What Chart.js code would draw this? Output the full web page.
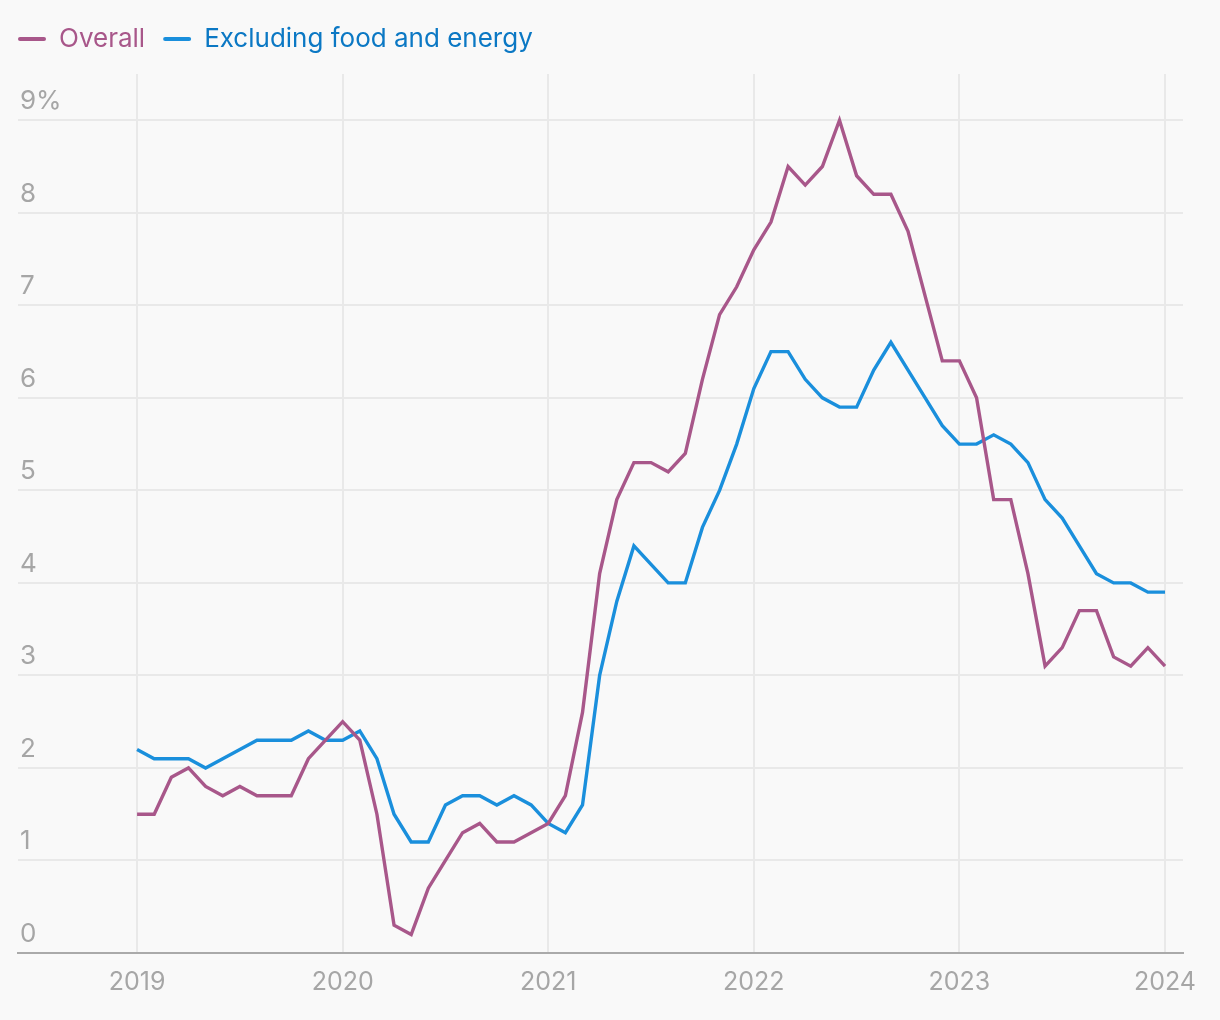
<!DOCTYPE html>
<html>
<head>
<meta charset="utf-8">
<script src="https://cdn.jsdelivr.net/npm/chart.js@4.4.1/dist/chart.umd.min.js"></script>
<style>
  html, body { margin: 0; padding: 0; background: #f9f9f9; }
  #wrap { width: 1220px; height: 1020px; position: relative; }
</style>
</head>
<body>
<div id="wrap"><canvas id="c"></canvas></div>
<script>
// Months: Jan 2019 (index 0) ... Jan 2024 (index 60)
const months = Array.from({length: 61}, (_, i) => i);
const overall = [
  1.5, 1.5, 1.9, 2.0, 1.8, 1.7, 1.8, 1.7, 1.7, 1.7, 2.1, 2.3,
  2.5, 2.3, 1.5, 0.3, 0.2, 0.7, 1.0, 1.3, 1.4, 1.2, 1.2, 1.3,
  1.4, 1.7, 2.6, 4.1, 4.9, 5.3, 5.3, 5.2, 5.4, 6.2, 6.9, 7.2,
  7.6, 7.9, 8.5, 8.3, 8.5, 9.0, 8.4, 8.2, 8.2, 7.8, 7.1, 6.4,
  6.4, 6.0, 4.9, 4.9, 4.1, 3.1, 3.3, 3.7, 3.7, 3.2, 3.1, 3.3,
  3.1
];
const core = [
  2.2, 2.1, 2.1, 2.1, 2.0, 2.1, 2.2, 2.3, 2.3, 2.3, 2.4, 2.3,
  2.3, 2.4, 2.1, 1.5, 1.2, 1.2, 1.6, 1.7, 1.7, 1.6, 1.7, 1.6,
  1.4, 1.3, 1.6, 3.0, 3.8, 4.4, 4.2, 4.0, 4.0, 4.6, 5.0, 5.5,
  6.1, 6.5, 6.5, 6.2, 6.0, 5.9, 5.9, 6.3, 6.6, 6.3, 6.0, 5.7,
  5.5, 5.5, 5.6, 5.5, 5.3, 4.9, 4.7, 4.4, 4.1, 4.0, 4.0, 3.9,
  3.9
];
const seriesNames = ['Overall', 'Excluding food and energy'];
const yearTicks = [0, 12, 24, 36, 48, 60];
const yearLabels = ['2019', '2020', '2021', '2022', '2023', '2024'];
const yTicks = [0, 1, 2, 3, 4, 5, 6, 7, 8, 9];

const lineColors = ['#a8578a', '#1a8fdc'];
const textColors = ['#a8578a', '#0b78c4'];

const legendMargin = {
  id: 'legendMargin',
  beforeInit(chart) {
    const origFit = chart.legend.fit;
    chart.legend.fit = function () {
      origFit.bind(this)();
      this.height += 12;
    };
  }
};

new Chart(document.getElementById('c'), {
  type: 'line',
  data: {
    labels: months,
    datasets: [
      { label: seriesNames[0], data: months.map((m, i) => ({x: m, y: overall[i]})),
        borderColor: lineColors[0], backgroundColor: lineColors[0], borderWidth: 3.4,
        pointRadius: 0, tension: 0, borderJoinStyle: 'miter' },
      { label: seriesNames[1], data: months.map((m, i) => ({x: m, y: core[i]})),
        borderColor: lineColors[1], backgroundColor: lineColors[1], borderWidth: 3.4,
        pointRadius: 0, tension: 0, borderJoinStyle: 'miter' }
    ]
  },
  options: {
    responsive: true,
    maintainAspectRatio: false,
    animation: false,
    layout: { padding: { left: 0, right: 37, top: 8, bottom: 9 } },
    plugins: {
      tooltip: { enabled: false },
      legend: {
        display: true,
        position: 'top',
        align: 'start',
        labels: {
          boxWidth: 28,
          boxHeight: 4,
          padding: 18,
          useBorderRadius: true,
          borderRadius: 2,
          font: { family: 'Inter', size: 26 },
          generateLabels(chart) {
            return chart.data.datasets.map((ds, i) => ({
              text: ds.label,
              fillStyle: lineColors[i],
              strokeStyle: lineColors[i],
              lineWidth: 0,
              fontColor: textColors[i],
              borderRadius: 2,
              datasetIndex: i,
              hidden: false
            }));
          }
        }
      }
    },
    scales: {
      x: {
        type: 'linear',
        min: -6.95,
        max: 61.05,
        afterBuildTicks(scale) { scale.ticks = yearTicks.map(v => ({value: v})); },
        ticks: {
          callback(v) { const k = yearTicks.indexOf(v); return k >= 0 ? yearLabels[k] : ''; },
          color: '#a6a6a6',
          font: { family: 'Inter', size: 25 },
          padding: 14,
          maxRotation: 0,
          autoSkip: false
        },
        grid: { color: '#e9e9e9', lineWidth: 2, drawTicks: false },
        border: { display: true, color: '#aaaaaa', width: 2 }
      },
      y: {
        type: 'linear',
        min: 0,
        max: 9.5,
        afterBuildTicks(scale) { scale.ticks = yTicks.map(v => ({value: v})); },
        afterFit(scale) { scale.width = 18; },
        ticks: {
          mirror: true,
          padding: 2,
          labelOffset: -19,
          color: '#a6a6a6',
          font: { family: 'Inter', size: 26 },
          callback(v) { return v === 9 ? '9%' : String(v); }
        },
        grid: { color: '#e9e9e9', lineWidth: 2, drawTicks: false },
        border: { display: false }
      }
    }
  },
  plugins: [legendMargin]
});
</script>
</body>
</html>
